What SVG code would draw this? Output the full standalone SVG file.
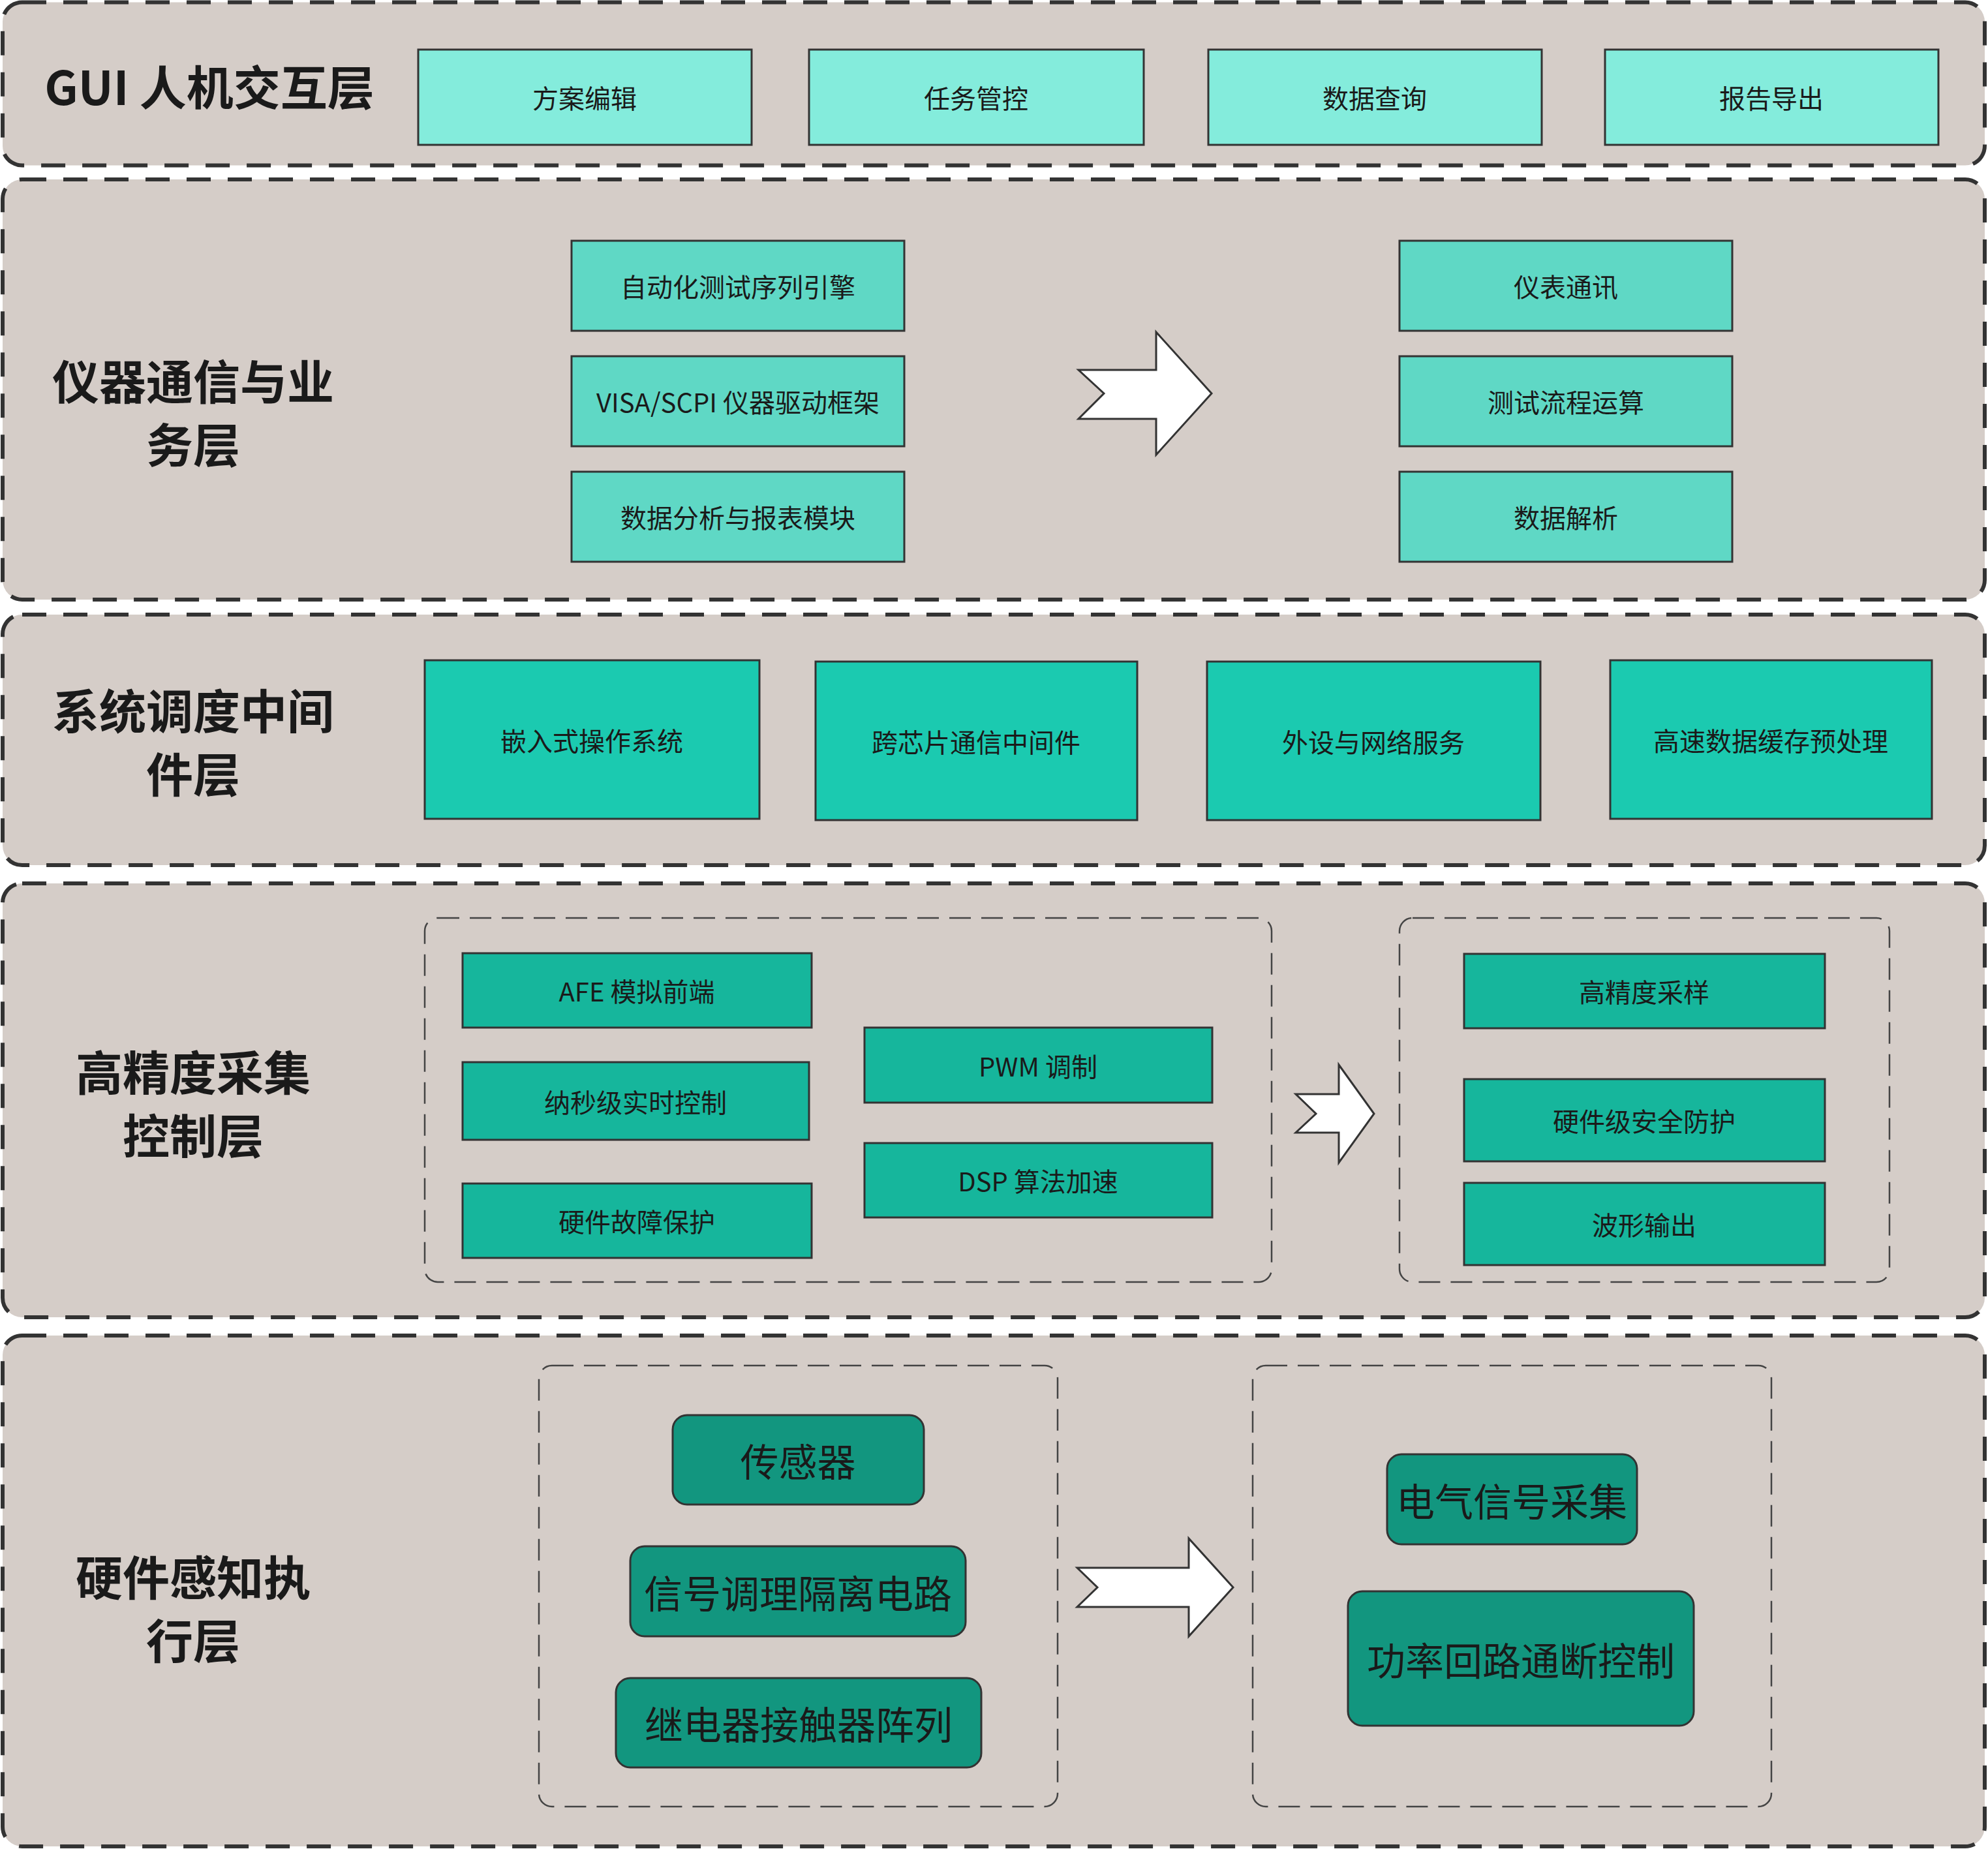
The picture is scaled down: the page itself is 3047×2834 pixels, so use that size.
<svg xmlns="http://www.w3.org/2000/svg" width="3047" height="2834" viewBox="0 0 3047 2834">
<style>
.layer{fill:#d5cdc8;stroke:#333;stroke-width:6;stroke-dasharray:37 26}
.cont{fill:none;stroke:#444;stroke-width:2.5;stroke-dasharray:33 16}
.box{stroke:#333;stroke-width:3}
.g1{fill:#84ecdc}.g2{fill:#5fd8c5}.g3{fill:#1bcab0}.g4{fill:#16b69c}.g5{fill:#12967f}
.t{font-family:"Noto Sans CJK SC","Noto Sans",sans-serif;fill:#1a1a1a;text-anchor:middle;dominant-baseline:central}
.s40{font-size:40px}.s59{font-size:59px}
.title{font-size:72px;font-weight:bold}
.arrow{fill:#fff;stroke:#333;stroke-width:3;stroke-linejoin:miter}
</style>
<rect width="3047" height="2834" fill="#fff"/>
<g id="layer-gui">
<rect class="layer" x="4" y="3.5" width="3038" height="250" rx="30"/>
<text class="t title" x="321" y="129">GUI 人机交互层</text>
</g>
<g id="layer-instrument">
<rect class="layer" x="4" y="275" width="3038" height="644" rx="30"/>
<text class="t title" x="296" y="580">仪器通信与业</text>
<text class="t title" x="296" y="677">务层</text>
</g>
<g id="layer-middleware">
<rect class="layer" x="4" y="942" width="3038" height="384" rx="30"/>
<text class="t title" x="296" y="1085">系统调度中间</text>
<text class="t title" x="296" y="1182">件层</text>
</g>
<g id="layer-acq">
<rect class="layer" x="4" y="1354" width="3038" height="665" rx="30"/>
<text class="t title" x="296" y="1639">高精度采集</text>
<text class="t title" x="296" y="1736">控制层</text>
<rect class="cont" x="651" y="1407" width="1298" height="558" rx="20"/>
<rect class="cont" x="2145" y="1407" width="751" height="558" rx="20"/>
</g>
<g id="layer-hw">
<rect class="layer" x="4" y="2047" width="3038" height="783" rx="30"/>
<text class="t title" x="296" y="2413">硬件感知执</text>
<text class="t title" x="296" y="2510">行层</text>
<rect class="cont" x="826" y="2093" width="795" height="676" rx="20"/>
<rect class="cont" x="1920" y="2093" width="795" height="676" rx="20"/>
</g>

<g id="n-fangan"><rect class="box g1" x="641" y="76" width="511" height="146"/><text class="t s40" x="896" y="149">方案编辑</text></g>
<g id="n-renwu"><rect class="box g1" x="1240" y="76" width="513" height="146"/><text class="t s40" x="1496" y="149">任务管控</text></g>
<g id="n-shuju"><rect class="box g1" x="1852" y="76" width="511" height="146"/><text class="t s40" x="2107" y="149">数据查询</text></g>
<g id="n-baogao"><rect class="box g1" x="2460" y="76" width="511" height="146"/><text class="t s40" x="2715" y="149">报告导出</text></g>

<g id="n-auto"><rect class="box g2" x="876" y="369" width="510" height="138"/><text class="t s40" x="1131" y="438">自动化测试序列引擎</text></g>
<g id="n-visa"><rect class="box g2" x="876" y="546" width="510" height="138"/><text class="t s40" x="1131" y="615">VISA/SCPI 仪器驱动框架</text></g>
<g id="n-analysis"><rect class="box g2" x="876" y="723" width="510" height="138"/><text class="t s40" x="1131" y="792">数据分析与报表模块</text></g>
<g id="n-meter"><rect class="box g2" x="2145" y="369" width="510" height="138"/><text class="t s40" x="2400" y="438">仪表通讯</text></g>
<g id="n-flow"><rect class="box g2" x="2145" y="546" width="510" height="138"/><text class="t s40" x="2400" y="615">测试流程运算</text></g>
<g id="n-parse"><rect class="box g2" x="2145" y="723" width="510" height="138"/><text class="t s40" x="2400" y="792">数据解析</text></g>

<g id="n-os"><rect class="box g3" x="651" y="1012" width="513" height="243"/><text class="t s40" x="907" y="1134">嵌入式操作系统</text></g>
<g id="n-chip"><rect class="box g3" x="1250" y="1014" width="493" height="243"/><text class="t s40" x="1496" y="1136">跨芯片通信中间件</text></g>
<g id="n-periph"><rect class="box g3" x="1850" y="1014" width="511" height="243"/><text class="t s40" x="2105" y="1136">外设与网络服务</text></g>
<g id="n-cache"><rect class="box g3" x="2468" y="1012" width="493" height="243"/><text class="t s40" x="2714" y="1134">高速数据缓存预处理</text></g>

<g id="n-afe"><rect class="box g4" x="709" y="1461" width="535" height="114"/><text class="t s40" x="976" y="1518">AFE 模拟前端</text></g>
<g id="n-ns"><rect class="box g4" x="709" y="1628" width="531" height="119"/><text class="t s40" x="974" y="1688">纳秒级实时控制</text></g>
<g id="n-fault"><rect class="box g4" x="709" y="1814" width="535" height="114"/><text class="t s40" x="976" y="1871">硬件故障保护</text></g>
<g id="n-pwm"><rect class="box g4" x="1325" y="1575" width="533" height="115"/><text class="t s40" x="1591" y="1633">PWM 调制</text></g>
<g id="n-dsp"><rect class="box g4" x="1325" y="1752" width="533" height="114"/><text class="t s40" x="1591" y="1809">DSP 算法加速</text></g>
<g id="n-sample"><rect class="box g4" x="2244" y="1462" width="553" height="114"/><text class="t s40" x="2520" y="1519">高精度采样</text></g>
<g id="n-safe"><rect class="box g4" x="2244" y="1654" width="553" height="126"/><text class="t s40" x="2520" y="1717">硬件级安全防护</text></g>
<g id="n-wave"><rect class="box g4" x="2244" y="1813" width="553" height="126"/><text class="t s40" x="2520" y="1876">波形输出</text></g>

<g id="n-sensor"><rect class="box g5" x="1031" y="2169" width="385" height="137" rx="22"/><text class="t s59" x="1223" y="2237">传感器</text></g>
<g id="n-cond"><rect class="box g5" x="966" y="2370" width="514" height="138" rx="22"/><text class="t s59" x="1223" y="2439">信号调理隔离电路</text></g>
<g id="n-relay"><rect class="box g5" x="944" y="2572" width="560" height="137" rx="22"/><text class="t s59" x="1224" y="2640">继电器接触器阵列</text></g>
<g id="n-elec"><rect class="box g5" x="2126" y="2229" width="383" height="138" rx="22"/><text class="t s59" x="2317" y="2298">电气信号采集</text></g>
<g id="n-power"><rect class="box g5" x="2066" y="2439" width="530" height="206" rx="22"/><text class="t s59" x="2331" y="2542">功率回路通断控制</text></g>

<g id="connectors">
<polygon class="arrow" points="1653,567 1772,567 1772,509 1857,603 1772,697 1772,642 1653,642 1692,603"/>
<polygon class="arrow" points="1986,1677 2052,1677 2052,1632 2106,1707 2052,1782 2052,1736 1986,1736 2017,1707"/>
<polygon class="arrow" points="1651,2403 1822,2403 1822,2358 1890,2433 1822,2508 1822,2463 1651,2463 1682,2433"/>
</g>
</svg>
